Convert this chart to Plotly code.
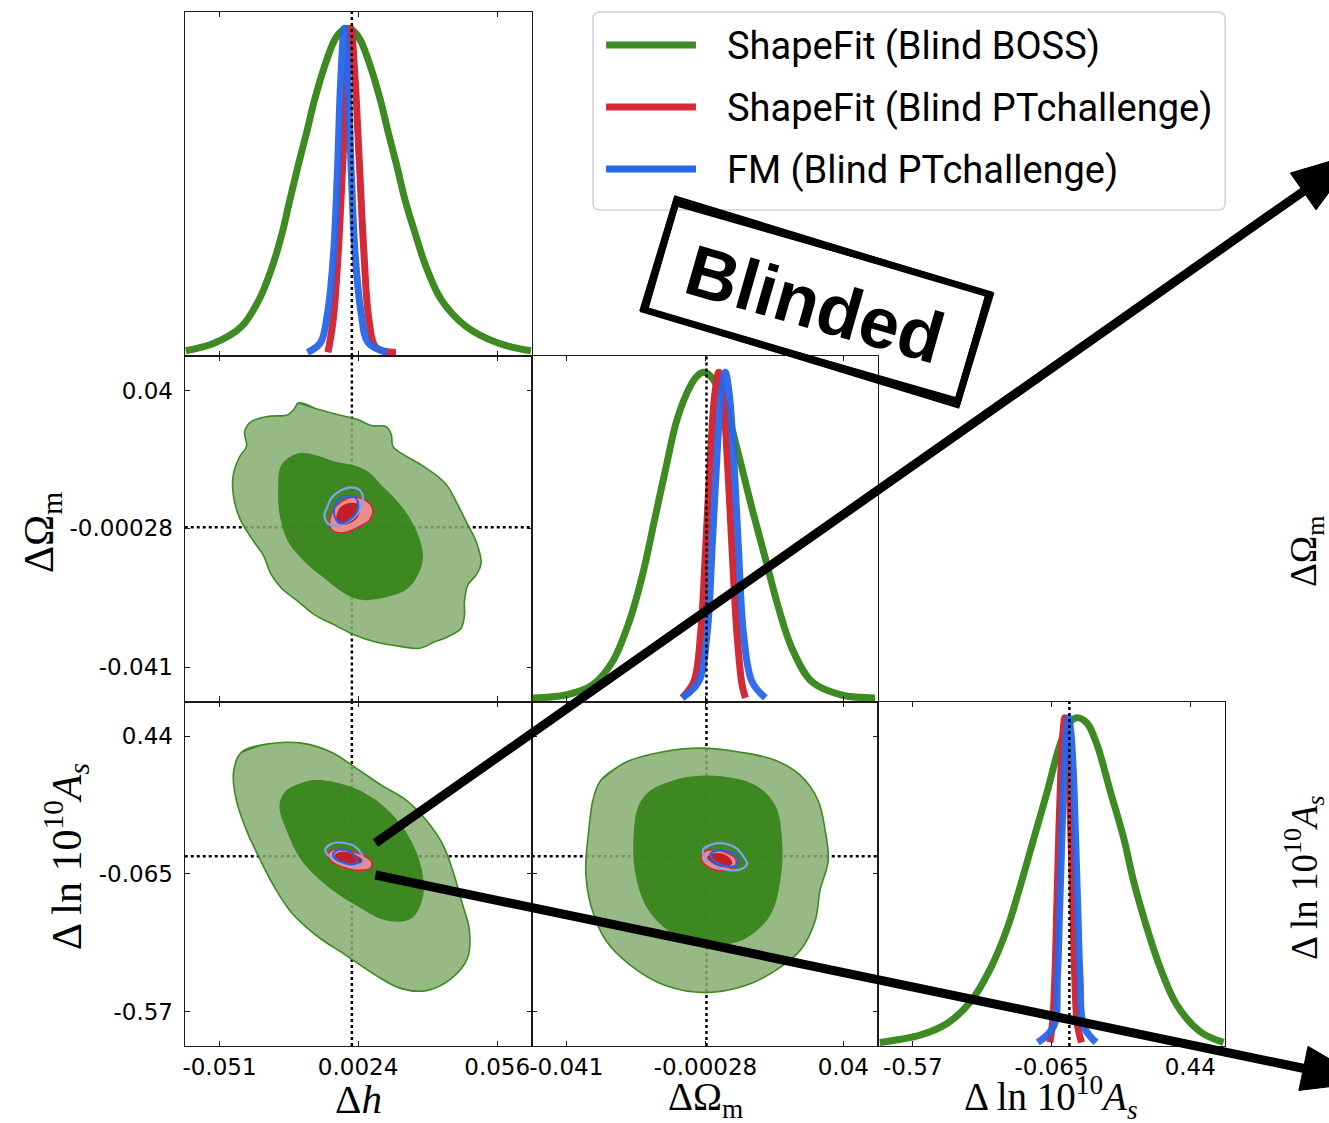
import math
import plotly.graph_objects as go

# ---------------- figure geometry ----------------
W, H = 1329, 1123

# ---------------- axis ticks and ranges ----------------
h_ticks = [-0.051, 0.0024, 0.056]
h_tick_text = ["-0.051", "0.0024", "0.056"]
om_ticks = [-0.041, -0.00028, 0.04]
om_tick_text = ["-0.041", "-0.00028", "0.04"]
as_ticks = [-0.57, -0.065, 0.44]
as_tick_text = ["-0.57", "-0.065", "0.44"]
h_range = [-0.0644, 0.0693]
om_range = [-0.0511, 0.0502]
as_range = [-0.696, 0.567]
pdf_range = [-0.011, 1.05]
truth = [0.0, 0.0, 0.0]  # reference values for h, Omega_m, ln10^10 As

param_labels = ["Δ<i>h</i>", "ΔΩ<sub>m</sub>", "Δ ln 10<sup>10</sup><i>A<sub>s</sub></i>"]

series_names = ["ShapeFit (Blind BOSS)", "ShapeFit (Blind PTchallenge)", "FM (Blind PTchallenge)"]
series_colors = ["#3e8b23", "#d42b37", "#2767ea"]

# ---------------- 1D marginals (parameter value, normalised density) ----------------
boss_h_x = [-0.0640, -0.0529, -0.0425, -0.0358, -0.0307, -0.0269, -0.0239, -0.0208, -0.0175, -0.0144,
            -0.0106, -0.0067, -0.0042, -0.0017, 0.0008, 0.0033, 0.0072, 0.0110, 0.0141, 0.0174, 0.0205,
            0.0244, 0.0286, 0.0345, 0.0440, 0.0563, 0.0690]
boss_h_p = [0.005, 0.029, 0.080, 0.162, 0.264, 0.367, 0.470, 0.573, 0.676, 0.778,
            0.881, 0.963, 0.990, 1.0, 0.990, 0.963, 0.881, 0.778, 0.676, 0.573, 0.470,
            0.367, 0.264, 0.162, 0.080, 0.029, 0.005]
sfpt_h_x = [-0.0092, -0.0072, -0.0053, -0.0034, -0.0018, -0.0003, 0.0012, 0.0028, 0.0047, 0.0066, 0.0093, 0.0170]
sfpt_h_p = [0.0, 0.1, 0.3, 0.6, 0.85, 1.0, 0.85, 0.6, 0.3, 0.1, 0.015, 0.0]
fm_h_x = [-0.0171, -0.0121, -0.0094, -0.0071, -0.0056, -0.0044, -0.0029, -0.0014, -0.0002, 0.0013, 0.0036, 0.0063, 0.0137]
fm_h_p = [0.0, 0.03, 0.12, 0.3, 0.55, 0.82, 1.0, 0.82, 0.55, 0.3, 0.12, 0.03, 0.0]

boss_om_x = [-0.0508, -0.0411, -0.0333, -0.0275, -0.0226, -0.0187, -0.0153, -0.0119, -0.0085, -0.0045, -0.0026,
             -0.0008, 0.0010, 0.0029, 0.0055, 0.0094, 0.0133, 0.0172, 0.0211, 0.0250, 0.0308, 0.0395, 0.0493]
boss_om_p = [0.0, 0.009, 0.040, 0.111, 0.234, 0.378, 0.541, 0.705, 0.859, 0.962, 0.990,
             1.0, 0.990, 0.962, 0.900, 0.746, 0.582, 0.429, 0.275, 0.152, 0.050, 0.009, 0.0]
sfpt_om_x = [-0.0071, -0.0037, -0.0017, -0.0003, 0.0012, 0.0024, 0.0036, 0.0048, 0.0060, 0.0075, 0.0089, 0.0104, 0.0114]
sfpt_om_p = [0.0, 0.05, 0.2, 0.45, 0.75, 0.93, 1.0, 0.93, 0.75, 0.45, 0.2, 0.04, 0.0]
fm_om_x = [-0.0071, -0.0023, 0.0002, 0.0016, 0.0031, 0.0043, 0.0055, 0.0067, 0.0079, 0.0094, 0.0108, 0.0133, 0.0172]
fm_om_p = [0.0, 0.05, 0.2, 0.45, 0.75, 0.93, 1.0, 0.93, 0.75, 0.45, 0.2, 0.05, 0.0]

boss_as_x = [-0.6900, -0.5410, -0.4441, -0.3593, -0.2866, -0.2261, -0.1777, -0.1292, -0.0808, -0.0384, -0.0021,
             0.0282, 0.0645, 0.1009, 0.1493, 0.1978, 0.2341, 0.2825, 0.3310, 0.3915, 0.4763, 0.5611]
boss_as_p = [0.0, 0.023, 0.059, 0.126, 0.229, 0.352, 0.485, 0.629, 0.772, 0.906, 0.983,
             1.0, 0.983, 0.916, 0.772, 0.629, 0.495, 0.352, 0.229, 0.115, 0.033, 0.0]
sfpt_as_x = [-0.0711, -0.0614, -0.0529, -0.0457, -0.0384, -0.0311, -0.0239, -0.0166, -0.0093, -0.0021,
             0.0052, 0.0125, 0.0197, 0.0282, 0.0440]
sfpt_as_p = [0.0, 0.06, 0.2, 0.42, 0.65, 0.83, 0.95, 1.0, 0.95, 0.83, 0.65, 0.42, 0.2, 0.06, 0.0]
fm_as_x = [-0.1150, -0.0569, -0.0436, -0.0351, -0.0266, -0.0194, -0.0109, -0.0024, 0.0061, 0.0146,
           0.0218, 0.0303, 0.0388, 0.0521, 0.0969]
fm_as_p = [0.0, 0.05, 0.2, 0.42, 0.65, 0.83, 0.95, 1.0, 0.95, 0.83, 0.65, 0.42, 0.2, 0.05, 0.0]

# ---------------- 2D credible contours (95% and 68%) ----------------
# h vs Omega_m
boss_hom_95_h = [-0.0207, -0.0143, -0.0053, 0.0024, 0.0075, 0.0133, 0.0152, 0.0158, 0.0190, 0.0267, 0.0331,
                 0.0370, 0.0408, 0.0447, 0.0479, 0.0498, 0.0479, 0.0447, 0.0434, 0.0434, 0.0421, 0.0370,
                 0.0319, 0.0261, 0.0190, 0.0088, 0.0011, -0.0066, -0.0143, -0.0207, -0.0271, -0.0310,
                 -0.0342, -0.0387, -0.0432, -0.0457, -0.0457, -0.0432, -0.0406, -0.0413, -0.0387, -0.0323,
                 -0.0246, -0.0220]
boss_hom_95_om = [0.0364, 0.0349, 0.0330, 0.0315, 0.0298, 0.0295, 0.0271, 0.0237, 0.0217, 0.0183, 0.0149,
                  0.0119, 0.0066, 0.0007, -0.0042, -0.0106, -0.0140, -0.0169, -0.0218, -0.0257, -0.0296,
                  -0.0321, -0.0336, -0.0355, -0.0350, -0.0336, -0.0316, -0.0287, -0.0257, -0.0218, -0.0179,
                  -0.0140, -0.0081, -0.0032, 0.0026, 0.0095, 0.0153, 0.0207, 0.0237, 0.0281, 0.0310,
                  0.0325, 0.0330, 0.0349]
boss_hom_68_h = [-0.0207, -0.0143, -0.0066, -0.0002, 0.0062, 0.0113, 0.0165, 0.0216, 0.0255, 0.0274, 0.0261,
                 0.0216, 0.0139, 0.0036, -0.0028, -0.0105, -0.0182, -0.0246, -0.0278, -0.0284, -0.0271]
boss_hom_68_om = [0.0217, 0.0212, 0.0193, 0.0183, 0.0163, 0.0124, 0.0085, 0.0036, -0.0022, -0.0081, -0.0130,
                  -0.0179, -0.0204, -0.0213, -0.0194, -0.0150, -0.0101, -0.0042, 0.0036, 0.0114, 0.0183]
sfpt_hom_95_h = [-0.0085, -0.0072, -0.0040, -0.0002, 0.0036, 0.0068, 0.0081, 0.0068, 0.0030, -0.0015, -0.0053, -0.0079]
sfpt_hom_95_om = [0.0021, 0.0051, 0.0075, 0.0088, 0.0085, 0.0070, 0.0046, 0.0021, 0.0002, -0.0013, -0.0016, -0.0006]
sfpt_hom_68_h = [-0.0060, -0.0047, -0.0015, 0.0017, 0.0030, 0.0024, -0.0002, -0.0034, -0.0056]
sfpt_hom_68_om = [0.0031, 0.0056, 0.0070, 0.0070, 0.0056, 0.0031, 0.0014, 0.0007, 0.0014]
fm_hom_95_h = [-0.0105, -0.0098, -0.0079, -0.0040, -0.0002, 0.0030, 0.0043, 0.0036, 0.0017, -0.0015, -0.0047, -0.0085, -0.0102]
fm_hom_95_om = [0.0041, 0.0053, 0.0085, 0.0109, 0.0117, 0.0109, 0.0085, 0.0060, 0.0036, 0.0016, 0.0007, 0.0007, 0.0021]
fm_hom_68_h = [-0.0066, -0.0047, -0.0008, 0.0017, 0.0024, 0.0011, -0.0015, -0.0040, -0.0060, -0.0069]
fm_hom_68_om = [0.0060, 0.0085, 0.0092, 0.0085, 0.0060, 0.0036, 0.0019, 0.0011, 0.0021, 0.0041]

# h vs ln10^10 As
boss_has_95_h = [-0.0425, -0.0329, -0.0194, -0.0079, 0.0017, 0.0114, 0.0210, 0.0287, 0.0352, 0.0391, 0.0422,
                 0.0453, 0.0445, 0.0383, 0.0287, 0.0191, 0.0094, -0.0021, -0.0137, -0.0233, -0.0302, -0.0356,
                 -0.0406, -0.0445, -0.0456]
boss_has_95_as = [0.3812, 0.4106, 0.4143, 0.3812, 0.3225, 0.2600, 0.2049, 0.1315, 0.0396, -0.0595, -0.1624,
                  -0.2726, -0.3754, -0.4489, -0.4929, -0.4856, -0.4378, -0.3644, -0.2909, -0.2064, -0.1073,
                  -0.0081, 0.0947, 0.2049, 0.3078]
boss_has_68_h = [-0.0252, -0.0156, -0.0021, 0.0094, 0.0191, 0.0260, 0.0275, 0.0229, 0.0133, 0.0017, -0.0098,
                 -0.0194, -0.0252, -0.0279]
boss_has_68_as = [0.2417, 0.2784, 0.2600, 0.2049, 0.1131, -0.0155, -0.1440, -0.2285, -0.2358, -0.1807, -0.1073,
                  -0.0155, 0.0947, 0.1866]
sfpt_has_95_h = [-0.0092, -0.0072, -0.0034, 0.0011, 0.0056, 0.0078, 0.0069, 0.0030, -0.0015, -0.0060, -0.0085]
sfpt_has_95_as = [0.0091, 0.0238, 0.0238, 0.0152, -0.0031, -0.0252, -0.0460, -0.0521, -0.0460, -0.0301, -0.0129]
sfpt_has_68_h = [-0.0066, -0.0047, -0.0008, 0.0024, 0.0043, 0.0030, -0.0008, -0.0047]
sfpt_has_68_as = [0.0030, 0.0152, 0.0128, -0.0007, -0.0178, -0.0337, -0.0337, -0.0215]
fm_has_95_h = [-0.0102, -0.0079, -0.0027, 0.0011, 0.0037, 0.0043, 0.0017, -0.0027, -0.0072, -0.0098]
fm_has_95_as = [0.0275, 0.0458, 0.0483, 0.0360, 0.0091, -0.0215, -0.0337, -0.0276, -0.0092, 0.0091]
fm_has_68_h = [-0.0072, -0.0053, -0.0021, 0.0011, 0.0021, -0.0002, -0.0040, -0.0066]
fm_has_68_as = [0.0091, 0.0238, 0.0214, 0.0030, -0.0215, -0.0301, -0.0215, -0.0068]

# Omega_m vs ln10^10 As
boss_omas_95_om = [-0.0309, -0.0236, -0.0134, -0.0017, 0.0099, 0.0201, 0.0274, 0.0326, 0.0347, 0.0356, 0.0332,
                   0.0318, 0.0274, 0.0201, 0.0114, -0.0003, -0.0120, -0.0221, -0.0294, -0.0338, -0.0353,
                   -0.0344, -0.0332]
boss_omas_95_as = [0.2784, 0.3445, 0.3812, 0.3959, 0.3812, 0.3518, 0.2968, 0.2049, 0.0947, -0.0155, -0.1256,
                   -0.2358, -0.3460, -0.4195, -0.4746, -0.5003, -0.4746, -0.4011, -0.3093, -0.1807, -0.0522,
                   0.0947, 0.2049]
boss_omas_68_om = [-0.0163, -0.0076, 0.0041, 0.0143, 0.0201, 0.0221, 0.0216, 0.0186, 0.0114, 0.0012, -0.0090,
                   -0.0169, -0.0207, -0.0213, -0.0198]
boss_omas_68_as = [0.2417, 0.2857, 0.2931, 0.2600, 0.1866, 0.0580, -0.0889, -0.2175, -0.3019, -0.3277, -0.2909,
                   -0.1991, -0.0705, 0.0764, 0.1866]
sfpt_omas_95_om = [-0.0015, -0.0003, 0.0031, 0.0065, 0.0085, 0.0085, 0.0065, 0.0031, 0.0002, -0.0014]
sfpt_omas_95_as = [0.0030, 0.0189, 0.0214, 0.0091, -0.0092, -0.0337, -0.0497, -0.0521, -0.0374, -0.0154]
sfpt_omas_68_om = [0.0002, 0.0016, 0.0046, 0.0070, 0.0075, 0.0055, 0.0026, 0.0007]
sfpt_omas_68_as = [-0.0031, 0.0091, 0.0091, -0.0092, -0.0276, -0.0399, -0.0337, -0.0215]
fm_omas_95_om = [-0.0008, 0.0016, 0.0055, 0.0089, 0.0109, 0.0119, 0.0104, 0.0070, 0.0031, 0.0002, -0.0010]
fm_omas_95_as = [0.0275, 0.0434, 0.0458, 0.0275, -0.0031, -0.0276, -0.0460, -0.0521, -0.0399, -0.0154, 0.0091]
fm_omas_68_om = [0.0012, 0.0031, 0.0060, 0.0085, 0.0094, 0.0080, 0.0046, 0.0021]
fm_omas_68_as = [0.0091, 0.0214, 0.0189, 0.0030, -0.0215, -0.0374, -0.0337, -0.0154]


# ---------------- helpers ----------------
def px(x):
    return x / W


def py(y):
    return 1 - y / H


def poly_path(points):
    return "M " + " L ".join(f"{px(x)},{py(y)}" for x, y in points) + " Z"


COLS = [(183, 530.5), (530.5, 877.5), (877.5, 1225)]
ROWS = [(12, 356), (356, 701.5), (701.5, 1046)]

fig = go.Figure()

AX_COLOR = "#1b1b1b"
TICK_FONT = dict(family="DejaVu Sans", size=23, color="black")


def axis(domain, rng, tickvals=None, ticktext=None, labels=False, anchor=None, standoff=4):
    d = dict(domain=domain, range=rng, anchor=anchor, showline=True, linecolor=AX_COLOR,
             linewidth=1.3, mirror="ticks", showgrid=False, zeroline=False, fixedrange=True,
             tickfont=TICK_FONT, ticklabelstandoff=standoff)
    if tickvals is None:
        d.update(ticks="", showticklabels=False)
    else:
        d.update(tickmode="array", tickvals=tickvals, ticktext=ticktext, ticks="inside",
                 ticklen=5, tickwidth=1.4, tickcolor=AX_COLOR, showticklabels=labels)
    return d


def xdom(c):
    return [px(COLS[c][0]), px(COLS[c][1])]


def ydom(r):
    return [py(ROWS[r][1]), py(ROWS[r][0])]


par = {
    "h": (h_range, h_ticks, h_tick_text),
    "om": (om_range, om_ticks, om_tick_text),
    "as": (as_range, as_ticks, as_tick_text),
}

# panel id -> (row, col, x parameter, y parameter or None for marginals)
panels = {
    1: (0, 0, "h", None),
    2: (1, 0, "h", "om"),
    3: (2, 0, "h", "as"),
    4: (1, 1, "om", None),
    5: (2, 1, "om", "as"),
    6: (2, 2, "as", None),
}

layout_axes = {}
for i, (r, c, xp, yp) in panels.items():
    xs = "" if i == 1 else str(i)
    xr, xt, xtt = par[xp]
    layout_axes["xaxis" + xs] = axis(xdom(c), xr, xt, xtt, labels=(r == 2), anchor="y" + xs, standoff=0)
    if yp is None:
        layout_axes["yaxis" + xs] = axis(ydom(r), pdf_range, anchor="x" + xs)
    else:
        yr, yt, ytt = par[yp]
        layout_axes["yaxis" + xs] = axis(ydom(r), yr, yt, ytt, labels=(c == 0), anchor="x" + xs, standoff=6)


def ref(i):
    return ("x", "y") if i == 1 else ("x%d" % i, "y%d" % i)


# ---------------- 1D marginals ----------------
marginals = {
    1: [(boss_h_x, boss_h_p), (sfpt_h_x, sfpt_h_p), (fm_h_x, fm_h_p)],
    4: [(boss_om_x, boss_om_p), (sfpt_om_x, sfpt_om_p), (fm_om_x, fm_om_p)],
    6: [(boss_as_x, boss_as_p), (sfpt_as_x, sfpt_as_p), (fm_as_x, fm_as_p)],
}
for i, curves in marginals.items():
    xa, ya = ref(i)
    for k, (xv, pv) in enumerate(curves):
        fig.add_trace(go.Scatter(x=xv, y=pv, mode="lines", xaxis=xa, yaxis=ya,
                                 line=dict(color=series_colors[k], width=7, shape="spline", smoothing=1.0),
                                 opacity=0.95 if k == 2 else 1.0,
                                 showlegend=False, hoverinfo="skip"))


# ---------------- 2D contours ----------------
def closed(a):
    return list(a) + list(a[:2])


contour_sets = {
    2: [(boss_hom_95_h, boss_hom_95_om, boss_hom_68_h, boss_hom_68_om),
        (sfpt_hom_95_h, sfpt_hom_95_om, sfpt_hom_68_h, sfpt_hom_68_om),
        (fm_hom_95_h, fm_hom_95_om, fm_hom_68_h, fm_hom_68_om)],
    3: [(boss_has_95_h, boss_has_95_as, boss_has_68_h, boss_has_68_as),
        (sfpt_has_95_h, sfpt_has_95_as, sfpt_has_68_h, sfpt_has_68_as),
        (fm_has_95_h, fm_has_95_as, fm_has_68_h, fm_has_68_as)],
    5: [(boss_omas_95_om, boss_omas_95_as, boss_omas_68_om, boss_omas_68_as),
        (sfpt_omas_95_om, sfpt_omas_95_as, sfpt_omas_68_om, sfpt_omas_68_as),
        (fm_omas_95_om, fm_omas_95_as, fm_omas_68_om, fm_omas_68_as)],
}

# fills: (outer fill, outer line, inner fill, inner line)
styles = [
    ("rgba(133,173,114,0.86)", "#3e8b23", "rgba(47,128,16,0.86)", None),
    ("#e88e90", "#d42b37", "#c41f27", None),
    (None, "#7fa3ee", None, "#2863e2"),
]

for i, sets in contour_sets.items():
    xa, ya = ref(i)
    for k, (x95, y95, x68, y68) in enumerate(sets):
        f95, l95, f68, l68 = styles[k]
        for xv, yv, fc, lc in ((x95, y95, f95, l95), (x68, y68, f68, l68)):
            kw = dict(x=closed(xv), y=closed(yv), mode="lines", xaxis=xa, yaxis=ya,
                      showlegend=False, hoverinfo="skip")
            if fc is not None:
                kw.update(fill="toself", fillcolor=fc,
                          line=dict(color=lc or fc, width=1.6 if lc else 0, shape="spline", smoothing=1.0))
            else:
                kw.update(line=dict(color=lc, width=2.2, shape="spline", smoothing=1.0))
            fig.add_trace(go.Scatter(**kw))

# ---------------- reference-value lines ----------------
shapes = []
dot = dict(color="black", width=2.5, dash="dot")
axis_param = {"h": 0, "om": 1, "as": 2}
for i, (r, c, xp, yp) in panels.items():
    xa, ya = ref(i)
    shapes.append(dict(type="line", xref=xa, yref=ya + " domain", x0=truth[axis_param[xp]],
                       x1=truth[axis_param[xp]], y0=0, y1=1, line=dot,
                       layer="above" if yp is None else "below"))
    if yp is not None:
        shapes.append(dict(type="line", xref=xa + " domain", yref=ya, x0=0, x1=1,
                           y0=truth[axis_param[yp]], y1=truth[axis_param[yp]], line=dot, layer="below"))

# ---------------- legend box ----------------
lx0, ly0, lx1, ly1, rad = 592, 12, 1225, 210, 7
legend_path = (
    f"M {px(lx0 + rad)},{py(ly0)} L {px(lx1 - rad)},{py(ly0)} Q {px(lx1)},{py(ly0)} {px(lx1)},{py(ly0 + rad)} "
    f"L {px(lx1)},{py(ly1 - rad)} Q {px(lx1)},{py(ly1)} {px(lx1 - rad)},{py(ly1)} "
    f"L {px(lx0 + rad)},{py(ly1)} Q {px(lx0)},{py(ly1)} {px(lx0)},{py(ly1 - rad)} "
    f"L {px(lx0)},{py(ly0 + rad)} Q {px(lx0)},{py(ly0)} {px(lx0 + rad)},{py(ly0)} Z"
)
shapes.append(dict(type="path", xref="paper", yref="paper", path=legend_path,
                   line=dict(color="#d3d3d3", width=1.6), fillcolor="rgba(255,255,255,0.85)", layer="above"))

annotations = []
for k, name in enumerate(series_names):
    yc = 45 + 62 * k
    shapes.append(dict(type="line", xref="paper", yref="paper", x0=px(605), x1=px(695), y0=py(yc), y1=py(yc),
                       line=dict(color=series_colors[k], width=7), layer="above"))
    annotations.append(dict(text=name, xref="paper", yref="paper", x=px(724), y=py(yc + 1),
                            xanchor="left", yanchor="middle", showarrow=False,
                            font=dict(family="Roboto", size=38, color="black")))

# ---------------- axis labels ----------------
for k, (xc, yc, fs) in enumerate([(357, 1099, 41), (705, 1099, 39), (1051, 1097, 39)]):
    annotations.append(dict(text=param_labels[k], xref="paper", yref="paper", x=px(xc), y=py(yc),
                            xanchor="center", yanchor="middle", showarrow=False,
                            font=dict(family="Liberation Serif", size=fs, color="black")))
for k, (xc, yc) in [(1, (40, 532)), (2, (64, 856))]:
    annotations.append(dict(text=param_labels[k], xref="paper", yref="paper", x=px(xc), y=py(yc),
                            xanchor="center", yanchor="middle", showarrow=False, textangle=-90,
                            font=dict(family="Liberation Serif", size=42, color="black")))
for k, (xc, yc) in [(1, (1306, 552)), (2, (1304, 878))]:
    annotations.append(dict(text=param_labels[k], xref="paper", yref="paper", x=px(xc), y=py(yc),
                            xanchor="center", yanchor="middle", showarrow=False, textangle=-90,
                            font=dict(family="Liberation Serif", size=37, color="black")))

# ---------------- "Blinded" stamp ----------------
stamp_c, stamp_ang = (816, 302), 16.5


def rot_rect(cx, cy, w, h, ang):
    t = math.radians(ang)
    ux, uy = math.cos(t), math.sin(t)
    vx, vy = -math.sin(t), math.cos(t)
    return [(cx + sa * w / 2 * ux + sb * h / 2 * vx, cy + sa * w / 2 * uy + sb * h / 2 * vy)
            for sa, sb in ((-1, -1), (1, -1), (1, 1), (-1, 1))]


# a heavy frame plus two thin, slightly skewed strokes give the rubber-stamp edge
for (w, h, ang, lw) in [(327, 113, stamp_ang, 7), (333, 119, stamp_ang + 0.5, 2), (322, 108, stamp_ang - 0.5, 2)]:
    shapes.append(dict(type="path", xref="paper", yref="paper",
                       path=poly_path(rot_rect(stamp_c[0], stamp_c[1], w, h, ang)),
                       line=dict(color="black", width=lw), layer="above"))
annotations.append(dict(text="<b>Blinded</b>", xref="paper", yref="paper", x=px(stamp_c[0] - 2), y=py(stamp_c[1] + 2),
                        xanchor="center", yanchor="middle", showarrow=False, textangle=16,
                        font=dict(family="Liberation Sans", size=72, color="black")))

# ---------------- zoom-out arrows: shaft + filled triangular head ----------------
arrows = [((374, 843), (1358, 153)), ((374, 875), (1369, 1082))]
HEAD_LEN, HEAD_W, SHAFT_W = 67, 45, 9
for (tx, ty), (hx, hy) in arrows:
    L = math.hypot(hx - tx, hy - ty)
    ux, uy = (hx - tx) / L, (hy - ty) / L
    bx, by = hx - HEAD_LEN * ux, hy - HEAD_LEN * uy
    shapes.append(dict(type="line", xref="paper", yref="paper", x0=px(tx), y0=py(ty), x1=px(bx + 2 * ux),
                       y1=py(by + 2 * uy), line=dict(color="black", width=SHAFT_W), layer="above"))
    head = [(bx - uy * HEAD_W / 2, by + ux * HEAD_W / 2), (hx, hy), (bx + uy * HEAD_W / 2, by - ux * HEAD_W / 2)]
    shapes.append(dict(type="path", xref="paper", yref="paper", path=poly_path(head),
                       fillcolor="black", line=dict(color="black", width=1), layer="above"))

fig.update_layout(
    width=W, height=H, margin=dict(l=0, r=0, t=0, b=0),
    paper_bgcolor="white", plot_bgcolor="rgba(0,0,0,0)",
    showlegend=False, shapes=shapes, annotations=annotations,
    **layout_axes,
)

fig.write_html("out.html")
